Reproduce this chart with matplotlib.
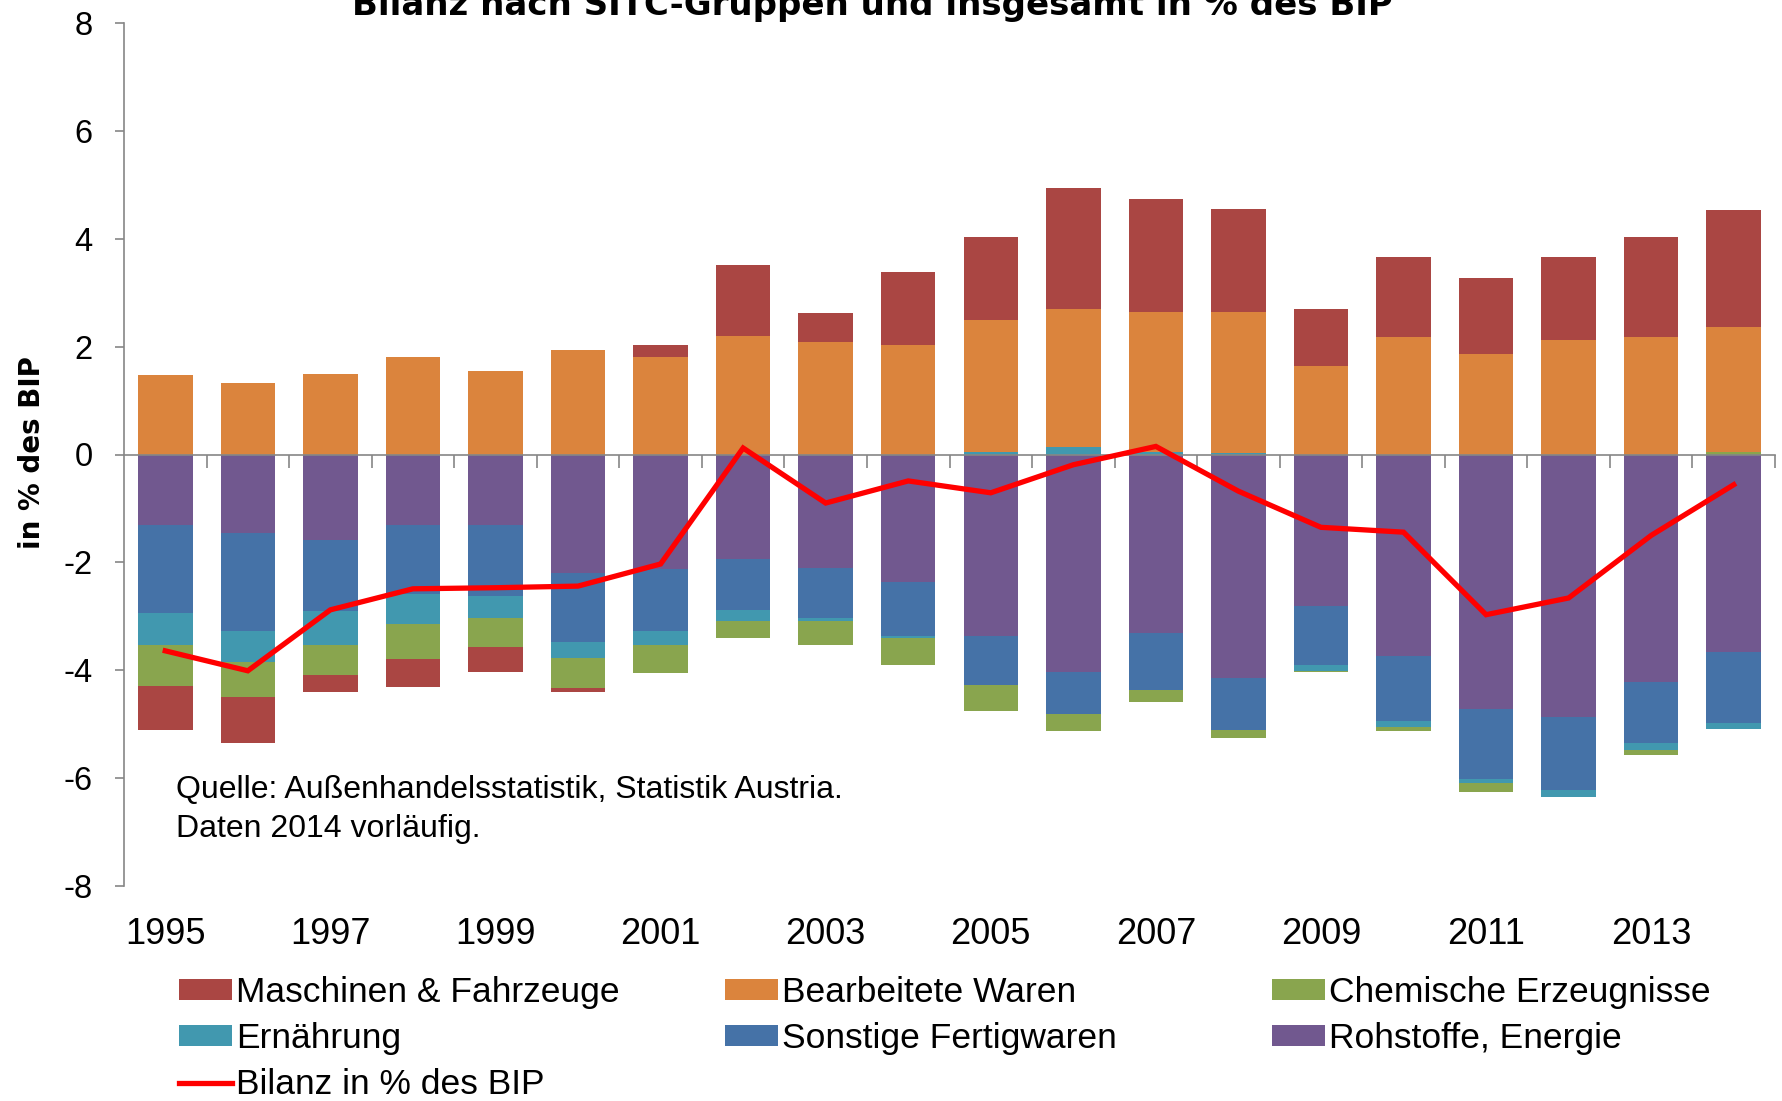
import matplotlib
matplotlib.use('Agg')
import matplotlib.pyplot as plt
import numpy as np
from matplotlib import font_manager
from matplotlib.patches import Patch
from matplotlib.lines import Line2D

# ---------------- data ----------------
years = list(range(1995, 2015))
rohstoffe = [-1.31, -1.45, -1.58, -1.31, -1.31, -2.20, -2.12, -1.94, -2.10, -2.36,
             -3.36, -4.04, -3.31, -4.15, -2.80, -3.74, -4.72, -4.87, -4.21, -3.66]
sonstige = [-1.63, -1.82, -1.33, -1.28, -1.32, -1.28, -1.15, -0.94, -0.94, -1.00,
            -0.91, -0.77, -1.05, -0.96, -1.10, -1.21, -1.30, -1.35, -1.14, -1.31]
ernaehrung = [-0.60, -0.58, -0.62, -0.56, -0.41, -0.30, -0.26, -0.20, -0.04, -0.05,
              0.05, 0.14, 0.05, 0.02, -0.12, -0.10, -0.07, -0.13, -0.12, -0.11]
chemische = [-0.75, -0.65, -0.55, -0.65, -0.53, -0.54, -0.53, -0.33, -0.45, -0.49,
             -0.48, -0.32, -0.23, -0.14, -0.02, -0.08, -0.16, 0.00, -0.10, 0.05]
bearbeitete = [1.47, 1.33, 1.50, 1.80, 1.55, 1.94, 1.80, 2.20, 2.08, 2.03,
               2.45, 2.55, 2.59, 2.62, 1.64, 2.17, 1.87, 2.13, 2.17, 2.31]
maschinen = [-0.82, -0.84, -0.33, -0.51, -0.46, -0.09, 0.23, 1.32, 0.54, 1.35,
             1.54, 2.26, 2.10, 1.92, 1.05, 1.50, 1.41, 1.54, 1.87, 2.17]
bilanz = [-3.64, -4.01, -2.88, -2.49, -2.47, -2.44, -2.03, 0.12, -0.90, -0.49,
          -0.71, -0.19, 0.15, -0.68, -1.35, -1.44, -2.97, -2.66, -1.50, -0.56]

series_names = ["Rohstoffe, Energie", "Sonstige Fertigwaren", "Ernährung",
                "Chemische Erzeugnisse", "Bearbeitete Waren", "Maschinen & Fahrzeuge"]
series_vals = [rohstoffe, sonstige, ernaehrung, chemische, bearbeitete, maschinen]
series_cols = ["#71588F", "#4572A7", "#4198AF", "#89A54E", "#DB843D", "#AA4643"]
line_name = "Bilanz in % des BIP"
title = "Bilanz nach SITC-Gruppen und insgesamt in % des BIP"
ylabel = "in % des BIP"
source1 = "Quelle: Außenhandelsstatistik, Statistik Austria."
source2 = "Daten 2014 vorläufig."


def pick(fams):
    for f in fams:
        try:
            font_manager.findfont(f, fallback_to_default=False)
            return f
        except Exception:
            pass
    return 'DejaVu Sans'


NARROW = pick(['Liberation Sans Narrow', 'Liberation Sans'])
plt.rcParams['font.family'] = [NARROW, 'DejaVu Sans']

W, H = 1783, 1101
fig = plt.figure(figsize=(W / 100, H / 100), dpi=100)
L, R, T, B = 124, 1775, 23, 886
ax = fig.add_axes([L / W, 1 - B / H, (R - L) / W, (B - T) / H])

x = np.arange(len(years))
pos_bottom = np.zeros(len(years))
neg_bottom = np.zeros(len(years))
handles = {}
for name, vals, col in zip(series_names, series_vals, series_cols):
    v = np.array(vals)
    pv = np.where(v > 0, v, 0)
    nv = np.where(v < 0, v, 0)
    ax.bar(x, pv, bottom=pos_bottom, width=0.66, color=col, zorder=2, linewidth=0)
    ax.bar(x, nv, bottom=neg_bottom, width=0.66, color=col, zorder=2, linewidth=0)
    pos_bottom += pv
    neg_bottom += nv
    handles[name] = Patch(facecolor=col, edgecolor='none')

ax.plot(x, bilanz, color='#FF0000', lw=3.8, zorder=5, solid_joinstyle='miter')
handles[line_name] = Line2D([0], [0], color='#FF0000', lw=3.8)

ax.set_xlim(-0.5, len(years) - 0.5)
ax.set_ylim(-8, 8)
ax.set_yticks(np.arange(-8, 9, 2))
ax.set_yticklabels([str(v) for v in range(-8, 9, 2)])

for s in ['top', 'right']:
    ax.spines[s].set_visible(False)
ax.spines['left'].set_color('#868686')
ax.spines['left'].set_linewidth(1.2)
ax.spines['bottom'].set_position(('data', 0))
ax.spines['bottom'].set_color('#868686')
ax.spines['bottom'].set_linewidth(1.2)
ax.spines['bottom'].set_zorder(4)

ax.set_xticks(np.arange(0.5, len(years), 1.0))
ax.set_xticklabels([])
ax.tick_params(axis='x', direction='out', length=9, width=1.2, color='#868686')
ax.tick_params(axis='y', direction='out', length=6.5, width=1.2, color='#868686',
               pad=16, labelsize=23.5)

sec = ax.secondary_xaxis(0)
sec.set_xticks(x[::2])
sec.set_xticklabels([str(y) for y in years[::2]])
sec.tick_params(length=0, pad=22, labelsize=26)
for s in sec.spines.values():
    s.set_visible(False)

fig.text(32 / W, 1 - 453 / H, ylabel, rotation=90, ha='center', va='center',
         fontsize=20, fontweight='bold', family='DejaVu Sans')

fig.text(872 / W, 1 - 15 / H, title, ha='center', va='baseline',
         fontsize=24.5, fontweight='bold', family='DejaVu Sans')

ax.text((176 - L) / (R - L), (B - 798) / (B - T), source1, transform=ax.transAxes,
        ha='left', va='baseline', fontsize=23)
ax.text((176 - L) / (R - L), (B - 837) / (B - T), source2, transform=ax.transAxes,
        ha='left', va='baseline', fontsize=23)

cols = [["Maschinen & Fahrzeuge", "Ernährung", line_name],
        ["Bearbeitete Waren", "Sonstige Fertigwaren"],
        ["Chemische Erzeugnisse", "Rohstoffe, Energie"]]
col_x = [179, 725, 1272]
for cx, names in zip(col_x, cols):
    fig.legend([handles[n] for n in names], names, loc='upper left',
               bbox_to_anchor=(cx / W, 1 - 976 / H), frameon=False, ncol=1,
               fontsize=25.5, handlelength=1.5, handleheight=0.52,
               handletextpad=0.1, labelspacing=0.37, borderpad=0, borderaxespad=0)

fig.savefig('out.png', dpi=100)
